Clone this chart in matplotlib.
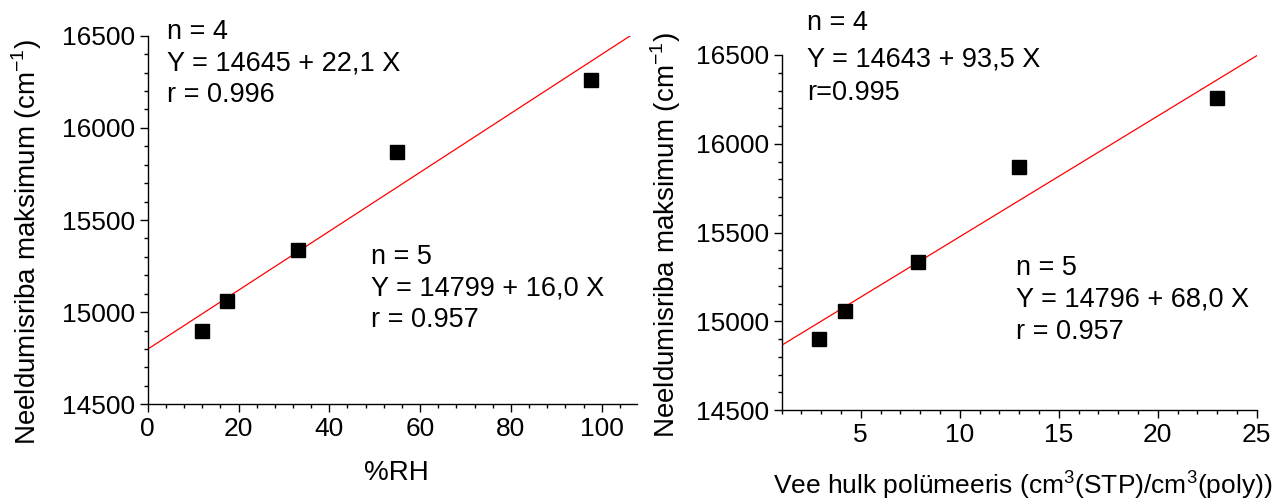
import matplotlib
matplotlib.use("Agg")
import matplotlib.pyplot as plt
from matplotlib.ticker import MultipleLocator
import numpy as np

plt.rcParams['font.family'] = ['Liberation Sans', 'DejaVu Sans']

# Data
rh = [12, 17.5, 33, 55, 97.7]
water = [2.9, 4.2, 7.9, 13.0, 23.0]
peak = [14900, 15060, 15335, 15870, 16260]

fit_left = (14799, 16.0)
fit_right = (14796, 68.0)

ylabel = "Neeldumisriba maksimum (cm$^{\\mathregular{-1}}$)"
xlabel_left = "%RH"
xlabel_right = "Vee hulk polümeeris (cm$^{\\mathregular{3}}$(STP)/cm$^{\\mathregular{3}}$(poly))"

left_text1 = ["n = 4", "Y = 14645 + 22,1 X", "r = 0.996"]
left_text2 = ["n = 5", "Y = 14799 + 16,0 X", "r = 0.957"]
right_text1 = ["n = 4", "Y = 14643 + 93,5 X", "r=0.995"]
right_text2 = ["n = 5", "Y = 14796 + 68,0 X", "r = 0.957"]

W, H = 1274, 499
fig = plt.figure(figsize=(W / 100, H / 100), dpi=100)

def px_axes(l, r, t, b):
    return fig.add_axes([l / W, 1 - b / H, (r - l) / W, (b - t) / H])

ax1 = px_axes(147.7, 636.7, 35.7, 404.3)
ax2 = px_axes(781.5, 1256.7, 55, 410)

FS_TICK = 19
FS_TXT = 19.5
FS_LAB = 20

def style(ax):
    for s in ['top', 'right']:
        ax.spines[s].set_visible(False)
    for s in ['left', 'bottom']:
        ax.spines[s].set_linewidth(1.0)
    ax.tick_params(which='major', direction='out', length=6, width=1, labelsize=FS_TICK, pad=3)
    ax.tick_params(which='minor', direction='out', length=3, width=1)
    ax.yaxis.set_major_locator(MultipleLocator(500))
    ax.yaxis.set_minor_locator(MultipleLocator(100))
    ax.set_ylim(14500, 16500)

# Left panel
style(ax1)
ax1.set_xlim(0, 107.7)
ax1.xaxis.set_major_locator(MultipleLocator(20))
ax1.xaxis.set_minor_locator(MultipleLocator(4))
xl = np.array([0, 107.7])
ax1.plot(xl, fit_left[0] + fit_left[1] * xl, color='red', lw=0.9, clip_on=True)
ax1.plot(rh, peak, 's', color='black', markersize=10, clip_on=False)
ax1.set_xticks([0, 20, 40, 60, 80, 100])

# Right panel
style(ax2)
ax2.set_xlim(1, 25)
ax2.xaxis.set_major_locator(MultipleLocator(5))
ax2.xaxis.set_minor_locator(MultipleLocator(1))
xr = np.array([1, 25])
ax2.plot(xr, fit_right[0] + fit_right[1] * xr, color='red', lw=0.9)
ax2.plot(water, peak, 's', color='black', markersize=10, clip_on=False)
ax2.set_xticks([5, 10, 15, 20, 25])

def block(ax, x, ys, lines):
    for y, t in zip(ys, lines):
        ax.text(x, y, t, transform=ax.transAxes, fontsize=FS_TXT, ha='left', va='center')

block(ax1, 0.039, [1.011, 0.925, 0.839], left_text1)
block(ax1, 0.457, [0.400, 0.315, 0.229], left_text2)
block(ax2, 0.053, [1.089, 0.988, 0.892], right_text1)
block(ax2, 0.4935, [0.399, 0.310, 0.221], right_text2)

fig.text(27 / W, 1 - 242 / H, ylabel, rotation=90, fontsize=FS_LAB, ha='center', va='center')
fig.text(666 / W, 1 - 235 / H, ylabel, rotation=90, fontsize=FS_LAB, ha='center', va='center')
fig.text(396 / W, 1 - 473 / H, xlabel_left, fontsize=FS_LAB, ha='center', va='center')
fig.text(1272 / W, 1 - 485 / H, xlabel_right, fontsize=19, ha='right', va='center')

fig.savefig("out.png", dpi=100)
